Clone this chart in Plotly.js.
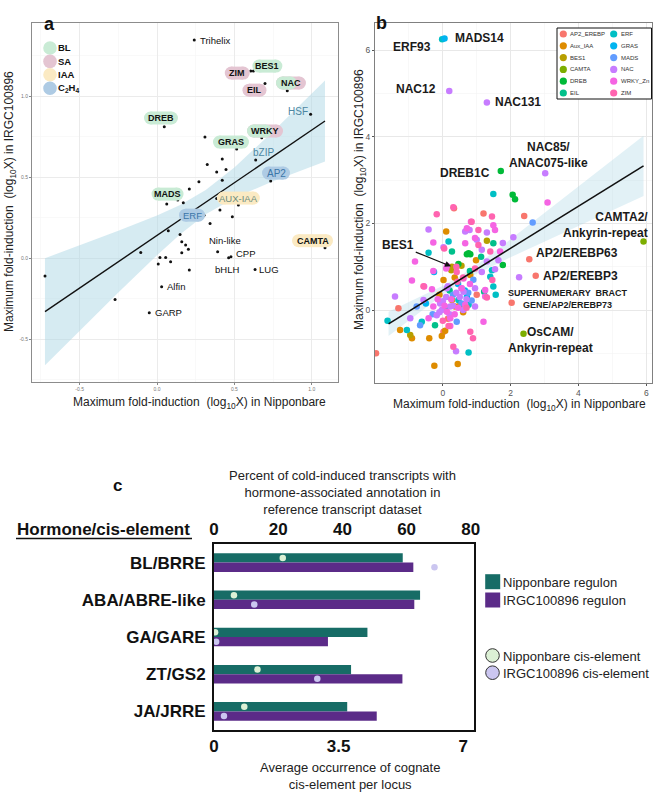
<!DOCTYPE html>
<html><head><meta charset="utf-8">
<script src="https://cdn.plot.ly/plotly-3.0.1.min.js"></script>
<style>html,body{margin:0;padding:0;background:#fff}#chart{width:660px;height:792px}</style>
</head><body><div id="chart"></div>
<script>
// ================= Panel a data =================
const aNames   = ['Trihelix','ZIM','BES1','EIL','NAC','HSF','DREB','WRKY','GRAS','bZIP','AP2','MADS','AUX-IAA','ERF','Nin-like','CPP','bHLH','LUG','Alfin','GARP','CAMTA'];
const aNamedX  = [0.241, 0.606, 0.623, 0.698, 0.842, 0.993, 0.047, 0.677, 0.515, 0.638, 0.735, 0.063, 0.526, 0.304, 0.392, 0.478, 0.463, 0.634, 0.030, -0.050, 1.086];
const aNamedY  = [1.346, 1.154, 1.154, 1.078, 1.033, 0.887, 0.811, 0.743, 0.673, 0.605, 0.475, 0.333, 0.327, 0.265, 0.039, 0.008, 0.002, -0.070, -0.177, -0.338, 0.064];
const aOtherX  = [0.310, 0.422, 0.325, 0.446, 0.386, 0.422, 0.271, 0.209, 0.134, 0.170, 0.386, 0.407, 0.487, 0.343, 0.073, 0.149, 0.160, 0.185, 0.203, 0.160, -0.105, 0.019, 0.056, 0.008, 0.088, 0.209, -0.724, -0.271];
const aOtherY  = [0.747, 0.611, 0.578, 0.547, 0.531, 0.481, 0.471, 0.426, 0.358, 0.341, 0.368, 0.296, 0.255, 0.214, 0.169, 0.146, 0.101, 0.080, 0.054, 0.033, 0.035, 0.004, 0.004, -0.037, -0.023, -0.074, -0.111, -0.255];
const aFitX    = [-0.724, -0.5, -0.25, 0, 0.15, 0.315, 0.5, 0.75, 1.086];
const aFitY    = [-0.331, -0.185, -0.023, 0.140, 0.238, 0.345, 0.465, 0.628, 0.846];
const aFitLo   = [-0.661, -0.448, -0.213, 0.017, 0.147, 0.270, 0.371, 0.474, 0.596];
const aFitHi   = [-0.001, 0.078, 0.168, 0.263, 0.328, 0.420, 0.559, 0.782, 1.096];
const aLegendNames = ['BL','SA','IAA','C<sub>2</sub>H<sub>4</sub>'];
const aTicks = [-0.5, 0, 0.5, 1.0];

// ================= Panel b data =================
const bFamilies = ['AP2_EREBP','Aux_IAA','BES1','CAMTA','DREB','EIL','ERF','GRAS','MADS','NAC','WRKY_Zn','ZIM'];
const bAP2_EREBP = [[0.33,2.35],[2.40,2.17],[1.20,2.23],[-1.31,0.04],[-1.97,-1.00],[2.55,1.17],[2.74,0.79],[2.03,0.17],[0.15,-0.20],[1.00,0.35],[0.02,-0.50]];
const bAux_IAA = [[0.10,1.81],[0.98,1.15],[0.81,0.81],[0.02,0.69],[0.36,0.08],[0.27,0.23],[-1.26,-0.46],[-0.91,-0.65],[-0.40,-0.65],[-0.03,-0.60],[0.07,-0.48],[-0.25,-1.29],[0.44,-1.25],[0.50,0.10],[0.35,0.75],[-0.10,0.35],[0.60,-0.05]];
const bBES1 = [[0.27,1.00],[1.30,1.60],[-0.96,-0.58],[0.25,0.92],[0.55,1.02]];
const bCAMTA = [[5.92,1.58],[2.38,-0.55]];
const bDREB = [[1.71,3.21],[2.06,2.66],[2.13,2.56],[0.71,1.29],[0.81,1.29],[0.76,1.31],[0.46,1.06],[1.77,1.04]];
const bEIL = [[0.27,1.35],[1.13,1.23],[1.22,0.42],[-0.23,-0.35],[0.20,0.45],[0.80,0.90],[1.49,1.54]];
const bERF = [[-0.02,6.25],[0.17,1.58],[-0.42,1.32],[1.49,2.68],[1.45,0.92],[1.40,0.77],[1.49,0.54],[1.56,0.35],[0.46,0.23],[0.76,0.12],[-1.06,-0.46],[0.76,-0.98],[-1.63,-0.25],[0.10,0.05],[-0.62,-0.27]];
const bGRAS = [[0.05,6.27],[-0.26,0.88],[0.45,0.60],[0.65,0.45],[-0.50,0.15],[0.71,0.30]];
const bMADS = [[2.65,2.02],[-0.77,0.08],[0.41,-0.27],[-0.67,-0.35],[0.30,0.35],[0.55,0.15],[0.75,0.40],[-0.30,-0.10],[0.90,0.70],[0.85,0.22]];
const bNAC = [[0.19,5.06],[1.30,4.79],[3.02,3.16],[2.25,0.755],[-0.42,1.86],[0.79,1.85],[1.30,1.79],[2.08,1.68],[1.00,1.62],[1.77,1.55],[0.02,1.45],[1.15,1.39],[1.30,1.12],[1.64,1.15],[1.15,0.88],[0.56,0.50],[0.95,0.50],[-1.41,0.31],[-0.96,-0.19],[0.39,-0.95],[0.12,0.50],[-0.57,0.23],[-0.08,0.15],[0.61,0.42],[-0.18,-0.12],[-0.03,0.00],[0.22,0.08],[0.00,0.20],[0.10,0.30],[0.30,0.10],[0.50,0.30],[0.60,0.00],[0.20,-0.10],[-0.10,-0.05],[0.40,0.40],[0.70,0.25],[0.15,0.55],[1.54,0.94],[0.95,0.08],[0.66,1.81]];
const bWRKY_Zn = [[0.71,1.89],[3.09,2.48],[0.83,2.04],[1.54,1.85],[-0.28,1.56],[0.66,1.54],[1.69,1.35],[-0.82,1.12],[0.10,0.96],[-0.28,0.90],[0.12,1.02],[0.61,0.73],[-0.91,0.68],[-0.55,0.54],[-0.32,0.48],[0.66,0.12],[-0.28,0.08],[0.12,-0.04],[-0.42,-0.19],[0.22,-0.19],[0.22,-0.37],[1.20,-0.27],[1.25,0.46],[1.25,0.31],[0.95,1.66],[1.49,1.96],[0.05,0.10],[0.25,0.25],[0.45,0.05],[-0.15,0.25],[0.35,-0.10],[0.55,0.50],[0.80,0.60]];
const bZIM = [[0.31,2.37],[-0.18,2.21],[1.45,2.16],[1.05,1.85],[0.04,1.42],[1.40,1.35],[0.41,0.88],[0.95,0.96],[1.46,0.69],[-0.57,0.55],[0.43,0.65],[1.30,0.29],[0.17,-0.37],[0.81,-0.50],[0.89,-0.65],[0.31,-0.85],[0.85,2.04],[1.05,1.50],[0.60,0.75],[0.40,1.00],[0.00,-0.25],[0.70,0.05]];
const bLabelText = ['MADS14','ERF93','NAC12','NAC131','NAC85/<br>ANAC075-like','DREB1C','CAMTA2/<br>Ankyrin-repeat','BES1','AP2/EREBP63','AP2/EREBP3','SUPERNUMERARY  BRACT<br>GENE/AP2/EREBP73','OsCAM/<br>Ankyrin-repeat'];
const bLabelX = [0.05, -0.02, 0.19, 1.30, 3.02, 1.71, 5.92, 0.27, 2.55, 2.74, 2.03, 2.38];
const bLabelY = [6.27, 6.25, 5.06, 4.79, 3.16, 3.21, 1.58, 1.00, 1.17, 0.79, 0.17, -0.55];
const bFitX  = [-1.6, -1, 0, 0.5, 1, 2, 3, 4, 5, 5.92];
const bFitY  = [-0.320, -0.029, 0.456, 0.699, 0.941, 1.426, 1.911, 2.396, 2.881, 3.327];
const bFitLo = [-0.600, -0.237, 0.354, 0.619, 0.839, 1.218, 1.582, 1.942, 2.301, 2.630];
const bFitHi = [-0.040, 0.179, 0.558, 0.779, 1.043, 1.634, 2.240, 2.850, 3.461, 4.024];
const bTicks = [0, 2, 4, 6];

// ================= Panel c data =================
const cCategories  = ['BL/BRRE','ABA/ABRE-like','GA/GARE','ZT/GS2','JA/JRRE'];
const cNipRegulon  = [58.8, 64.2, 47.8, 42.7, 41.5];
const cIrgcRegulon = [62.1, 62.4, 35.5, 58.7, 50.7];
const cNipCis      = [1.93, 0.56, 0.03, 1.22, 0.85];
const cIrgcCis     = [6.19, 1.13, 0.06, 2.90, 0.28];
const cSeriesNames = ['Nipponbare regulon','IRGC100896 regulon','Nipponbare cis-element','IRGC100896 cis-element'];
const cTopTicks    = [0, 20, 40, 60, 80];
const cBottomTicks = [0, 3.5, 7];

// ================= drawing =================
const FONT = 'Liberation Sans, Arial, sans-serif';
const W = 660, H = 792;
const px = v => v / W;
const py = v => 1 - v / H;

const COL = {BL:'#c9ebd5', SA:'#e4c5d2', IAA:'#fbeac3', C2H4:'#aecbe4'};
const bColors = ['#F8766D','#DE8C00','#B79F00','#7CAE00','#00BA38','#00C08B','#00BFC4','#00B4F0','#619CFF','#C77CFF','#F564E3','#FF64B0'];
const bData = [bAP2_EREBP,bAux_IAA,bBES1,bCAMTA,bDREB,bEIL,bERF,bGRAS,bMADS,bNAC,bWRKY_Zn,bZIM];
const teal = '#176c66', purple = '#5b2b88', nipDot = '#dcf0d5', irgcDot = '#cbc6f0';

const traces = [];
const shapes = [];
const annotations = [];

// ---- panel a traces
traces.push({type:'scatter', mode:'lines', x:aFitX.concat(aFitX.slice().reverse()), y:aFitHi.concat(aFitLo.slice().reverse()),
  fill:'toself', fillcolor:'rgba(173,216,230,0.5)', line:{width:0, color:'rgba(0,0,0,0)'}, xaxis:'x', yaxis:'y', hoverinfo:'skip'});
traces.push({type:'scatter', mode:'markers', x:aNamedX.concat(aOtherX), y:aNamedY.concat(aOtherY),
  marker:{size:3, color:'#111'}, xaxis:'x', yaxis:'y'});
traces.push({type:'scatter', mode:'lines', x:aFitX, y:aFitY, line:{color:'#111', width:1.4}, xaxis:'x', yaxis:'y'});

// ---- panel b traces
traces.push({type:'scatter', mode:'lines', x:bFitX.concat(bFitX.slice().reverse()), y:bFitHi.concat(bFitLo.slice().reverse()),
  fill:'toself', fillcolor:'rgba(173,216,230,0.35)', line:{width:0, color:'rgba(0,0,0,0)'}, xaxis:'x2', yaxis:'y2', hoverinfo:'skip'});
bData.forEach((arr,i)=>{
  traces.push({type:'scatter', mode:'markers', name:bFamilies[i], x:arr.map(p=>p[0]), y:arr.map(p=>p[1]),
    marker:{size:6.5, color:bColors[i], line:{width:0}}, xaxis:'x2', yaxis:'y2'});
});
traces.push({type:'scatter', mode:'lines', x:bFitX, y:bFitY, line:{color:'#111', width:1.6}, xaxis:'x2', yaxis:'y2'});

// ---- panel c traces
const cIdx = cCategories.map((_,i)=>i);
traces.push({type:'bar', orientation:'h', x:cNipRegulon, y:cIdx, width:0.25, offset:-0.25, marker:{color:teal, line:{width:0}}, xaxis:'x3', yaxis:'y3'});
traces.push({type:'bar', orientation:'h', x:cIrgcRegulon, y:cIdx, width:0.25, offset:0, marker:{color:purple, line:{width:0}}, xaxis:'x3', yaxis:'y3'});
traces.push({type:'scatter', mode:'markers', x:cNipCis, y:cIdx.map(i=>i-0.125), marker:{size:6.5, color:nipDot}, xaxis:'x4', yaxis:'y3'});
traces.push({type:'scatter', mode:'markers', x:cIrgcCis, y:cIdx.map(i=>i+0.125), marker:{size:6.5, color:irgcDot}, xaxis:'x4', yaxis:'y3'});

// ---- pill helper (pixel-sized shapes anchored at a data/paper point)
function pill(xref, yref, xa, ya, cx, cy, w, h, color){
  const r = h/2;
  const base = {xref, yref, xsizemode:'pixel', ysizemode:'pixel', xanchor:xa, yanchor:ya, fillcolor:color, line:{width:0}, layer:'above'};
  return [
    Object.assign({type:'rect', x0:cx-w/2+r, x1:cx+w/2-r, y0:-cy-r, y1:-cy+r}, base),
    Object.assign({type:'circle', x0:cx-w/2, x1:cx-w/2+h, y0:-cy-r, y1:-cy+r}, base),
    Object.assign({type:'circle', x0:cx+w/2-h, x1:cx+w/2, y0:-cy-r, y1:-cy+r}, base)
  ];
}

// ---- panel a labels (offsets in screen px from the point)
const aStyle = {
  'Trihelix':{dx:4, dy:0, anchor:'left'},
  'ZIM':{dx:-13.5, dy:2, pill:['SA'], w:25, bold:true},
  'BES1':{dx:14, dy:-5, pill:['BL'], w:30, bold:true},
  'EIL':{dx:-10.5, dy:6.7, pill:['SA'], w:24, bold:true},
  'NAC':{dx:3.7, dy:-7.7, pill:['BL','SA'], w:30, bold:true},
  'HSF':{dx:-12.7, dy:-3.3, color:'#4d87a2', size:10},
  'DREB':{dx:-3.3, dy:-8.7, pill:['BL'], w:34, bold:true},
  'WRKY':{dx:3.3, dy:-6.7, pill:['BL','SA'], w:36, bold:true},
  'GRAS':{dx:-5.7, dy:-7, pill:['BL'], w:36, bold:true},
  'bZIP':{dx:7.3, dy:-8, color:'#4d87a2', size:10},
  'AP2':{dx:5.3, dy:-8, pill:['C2H4'], w:28, color:'#3b76a8', size:10},
  'MADS':{dx:0.8, dy:-10, pill:['BL'], w:32, bold:true},
  'AUX-IAA':{dx:0, dy:-7, pill:['IAA'], w:43, color:'#6c8c7c', size:9.5},
  'ERF':{dx:-12, dy:0, pill:['C2H4'], w:26, color:'#3b76a8', size:9.5},
  'Nin-like':{dx:7.3, dy:-11},
  'CPP':{dx:3, dy:-3.7, anchor:'left'},
  'bHLH':{dx:-1.7, dy:11.3},
  'LUG':{dx:2, dy:0, anchor:'left'},
  'Alfin':{dx:3, dy:0, anchor:'left'},
  'GARP':{dx:4, dy:0, anchor:'left'},
  'CAMTA':{dx:-12.5, dy:-7, pill:['IAA'], w:41, bold:true}
};
aNames.forEach((n,i)=>{
  const s = aStyle[n];
  const xa = aNamedX[i], ya = aNamedY[i];
  if (s.pill){
    if (s.pill.length === 1){
      shapes.push(...pill('x','y',xa,ya,s.dx,s.dy,s.w,13,COL[s.pill[0]]));
    } else {
      shapes.push(...pill('x','y',xa,ya,s.dx,s.dy,s.w,13,COL[s.pill[1]]));
      shapes.push(...pill('x','y',xa,ya,s.dx-0.15*s.w,s.dy,0.7*s.w,13,COL[s.pill[0]]));
    }
  }
  annotations.push({xref:'x', yref:'y', x:xa, y:ya, text: s.bold ? '<b>'+n+'</b>' : n, showarrow:false,
    xanchor:s.anchor||'center', yanchor:'middle', xshift:s.dx, yshift:-s.dy,
    font:{family:FONT, size:s.size || (s.bold ? 9 : 9.5), color:s.color||'#111'}});
});
// panel a legend
const aLegCols = [COL.BL, COL.SA, COL.IAA, COL.C2H4];
aLegendNames.forEach((n,i)=>{
  const cy = 48 + i*13.4;
  shapes.push({type:'circle', xref:'paper', yref:'paper', xsizemode:'pixel', ysizemode:'pixel', xanchor:px(50), yanchor:py(cy),
    x0:-6.8, x1:6.8, y0:-6.8, y1:6.8, fillcolor:aLegCols[i], line:{width:0}, layer:'above'});
  annotations.push({xref:'paper', yref:'paper', x:px(56), y:py(cy), text:'<b>'+n+'</b>', showarrow:false, xanchor:'left', yanchor:'middle',
    font:{family:FONT, size:9.5, color:'#111'}});
});

// ---- panel b labels
const bStyle = [
  {dx:8, dy:-1, anchor:'left'},
  {dx:-9.3, dy:8, anchor:'right'},
  {dx:-11.7, dy:-1.7, anchor:'right'},
  {dx:6.6, dy:-0.7, anchor:'left'},
  {dx:3.5, dy:-18, anchor:'center'},
  {dx:-8.4, dy:1.7, anchor:'right'},
  {dx:6, dy:-17, anchor:'right', align:'right'},
  {arrow:true, ax:-53.7, ay:-21.7},
  {dx:5, dy:-6.3, anchor:'left'},
  {dx:5, dy:0, anchor:'left'},
  {dx:56, dy:-4, anchor:'center', size:9},
  {dx:26.7, dy:6.5, anchor:'center'}
];
bLabelText.forEach((t,i)=>{
  const s = bStyle[i];
  if (s.arrow){
    annotations.push({xref:'x2', yref:'y2', x:bLabelX[i], y:bLabelY[i], text:'<b>'+t+'</b>', showarrow:true,
      ax:s.ax, ay:s.ay, arrowhead:2, arrowsize:1, arrowwidth:1.2, arrowcolor:'#111', standoff:1,
      font:{family:FONT, size:12, color:'#1a1a1a'}});
  } else {
    annotations.push({xref:'x2', yref:'y2', x:bLabelX[i], y:bLabelY[i], text:'<b>'+t+'</b>', showarrow:false,
      xanchor:s.anchor, yanchor:'middle', align:s.align||'center', xshift:s.dx, yshift:-s.dy,
      font:{family:FONT, size:s.size||12, color:'#1a1a1a'}});
  }
});
// panel b legend (manual, two columns)
shapes.push({type:'rect', xref:'paper', yref:'paper', x0:px(557), x1:px(651.5), y0:py(99), y1:py(28),
  line:{color:'#111', width:1}, fillcolor:'#ffffff', layer:'above'});
bFamilies.forEach((f,i)=>{
  const col = Math.floor(i/6), row = i%6;
  const cx = col ? 613.7 : 563.3, cy = 34 + row*11.8;
  shapes.push({type:'circle', xref:'paper', yref:'paper', xsizemode:'pixel', ysizemode:'pixel', xanchor:px(cx), yanchor:py(cy),
    x0:-3.6, x1:3.6, y0:-3.6, y1:3.6, fillcolor:bColors[i], line:{width:0}, layer:'above'});
  annotations.push({xref:'paper', yref:'paper', x:px(cx+5), y:py(cy), text:f, showarrow:false, xanchor:'left', yanchor:'middle',
    font:{family:FONT, size:6, color:'#333'}});
});

// ---- axis titles / panel letters
const axTitleFont = {family:FONT, size:12, color:'#222'};
annotations.push({xref:'paper', yref:'paper', x:px(10), y:py(202), textangle:-90, showarrow:false, xanchor:'center', yanchor:'middle',
  text:'Maximum fold-induction  (log<sub>10</sub>X) in IRGC100896', font:axTitleFont});
annotations.push({xref:'paper', yref:'paper', x:px(360), y:py(200), textangle:-90, showarrow:false, xanchor:'center', yanchor:'middle',
  text:'Maximum fold-induction  (log<sub>10</sub>X) in IRGC100896', font:axTitleFont});
annotations.push({xref:'paper', yref:'paper', x:px(199), y:py(403), showarrow:false, xanchor:'center', yanchor:'middle',
  text:'Maximum fold-induction  (log<sub>10</sub>X) in Nipponbare', font:axTitleFont});
annotations.push({xref:'paper', yref:'paper', x:px(519), y:py(405), showarrow:false, xanchor:'center', yanchor:'middle',
  text:'Maximum fold-induction  (log<sub>10</sub>X) in Nipponbare', font:axTitleFont});
annotations.push({xref:'paper', yref:'paper', x:px(42), y:py(12), showarrow:false, text:'<b>a</b>', font:{family:FONT, size:18, color:'#111'}});
annotations.push({xref:'paper', yref:'paper', x:px(382), y:py(11), showarrow:false, text:'<b>b</b>', font:{family:FONT, size:18, color:'#111'}});
annotations.push({xref:'paper', yref:'paper', x:px(111), y:py(485), showarrow:false, text:'<b>c</b>', font:{family:FONT, size:17, color:'#111'}});
annotations.push({xref:'paper', yref:'paper', x:px(342), y:py(492), showarrow:false, xanchor:'center', yanchor:'middle',
  text:'Percent of cold-induced transcripts with<br>hormone-associated annotation in<br>reference transcript dataset', font:{family:FONT, size:13, color:'#222'}});
annotations.push({xref:'paper', yref:'paper', x:px(104), y:py(529), showarrow:false, xanchor:'center', yanchor:'middle',
  text:'<b>Hormone/cis-element</b>', font:{family:FONT, size:17, color:'#111'}});
shapes.push({type:'line', xref:'paper', yref:'paper', x0:px(16), x1:px(192), y0:py(538.5), y1:py(538.5), line:{color:'#111', width:1.5}});
annotations.push({xref:'paper', yref:'paper', x:px(349.5), y:py(775.5), showarrow:false, xanchor:'center', yanchor:'middle',
  text:'Average occurrence of cognate<br>cis-element per locus', font:{family:FONT, size:13, color:'#222'}});

// ---- panel c legend (manual)
shapes.push({type:'rect', xref:'paper', yref:'paper', x0:px(485.2), x1:px(500.2), y0:py(589.2), y1:py(574.2), fillcolor:teal, line:{width:0}});
shapes.push({type:'rect', xref:'paper', yref:'paper', x0:px(485.2), x1:px(500.2), y0:py(607.5), y1:py(592.5), fillcolor:purple, line:{width:0}});
shapes.push({type:'circle', xref:'paper', yref:'paper', xsizemode:'pixel', ysizemode:'pixel', xanchor:px(492.5), yanchor:py(655.5),
  x0:-6.8, x1:6.8, y0:-6.8, y1:6.8, fillcolor:nipDot, line:{color:'#333', width:1}});
shapes.push({type:'circle', xref:'paper', yref:'paper', xsizemode:'pixel', ysizemode:'pixel', xanchor:px(492.5), yanchor:py(672.7),
  x0:-6.8, x1:6.8, y0:-6.8, y1:6.8, fillcolor:irgcDot, line:{color:'#333', width:1}});
[582, 600, 656, 673].forEach((y,i)=>{
  annotations.push({xref:'paper', yref:'paper', x:px(501), y:py(y), showarrow:false, xanchor:'left', yanchor:'middle',
    text:cSeriesNames[i], font:{family:FONT, size:13, color:'#222'}});
});

// ---- axes
const aAxis = {showgrid:true, gridcolor:'#ebebeb', gridwidth:1, zeroline:false, showline:true, mirror:true, linecolor:'#8c8c8c', linewidth:1,
  ticks:'outside', ticklen:2, tickcolor:'#888', tickfont:{family:FONT, size:5, color:'#777'},
  tickmode:'array', tickvals:aTicks, ticktext:aTicks.map(v=>v.toFixed(1)),
  minor:{tickmode:'linear', tick0:0, dtick:0.25, showgrid:true, gridcolor:'#f5f5f5', gridwidth:0.6}};
const bAxis = {showgrid:true, gridcolor:'#e8e8e8', gridwidth:1, zeroline:false, showline:true, mirror:true, linecolor:'#808080', linewidth:1,
  ticks:'outside', ticklen:2, tickcolor:'#555', tickfont:{family:FONT, size:8.5, color:'#555'},
  tickmode:'array', tickvals:bTicks, ticktext:bTicks.map(String),
  minor:{tickmode:'linear', tick0:0, dtick:1, showgrid:true, gridcolor:'#f4f4f4', gridwidth:0.6}};
const boldTick = {family:FONT, size:17, color:'#111', weight:'bold'};

const layout = {
  width:660, height:792, margin:{l:0, r:0, t:0, b:0}, paper_bgcolor:'#fff', plot_bgcolor:'#fff',
  showlegend:false, font:{family:FONT}, barmode:'overlay', hovermode:false,
  xaxis: Object.assign({}, aAxis, {domain:[px(32), px(338)], anchor:'y', range:[-0.808, 1.170]}),
  yaxis: Object.assign({}, aAxis, {domain:[py(382), py(23)], anchor:'x', range:[-0.765, 1.451]}),
  xaxis2: Object.assign({}, bAxis, {domain:[px(375), px(652)], anchor:'y2', range:[-2.0, 6.17]}),
  yaxis2: Object.assign({}, bAxis, {domain:[py(382.7), py(23)], anchor:'x2', range:[-1.679, 6.628]}),
  xaxis3: {domain:[px(214), px(474)], anchor:'y3', side:'top', range:[0, 81], tickmode:'array', tickvals:cTopTicks,
    ticktext:cTopTicks.map(String), tickfont:boldTick, showline:true, mirror:true, linecolor:'#111', linewidth:2,
    showgrid:false, zeroline:false, ticks:'', ticklen:0},
  xaxis4: {overlaying:'x3', anchor:'y3', side:'bottom', range:[0, 7.3], tickmode:'array', tickvals:cBottomTicks,
    ticktext:cBottomTicks.map(String), tickfont:boldTick, showline:false, showgrid:false, zeroline:false,
    ticks:'outside', ticklen:1, tickcolor:'rgba(0,0,0,0)'},
  yaxis3: {domain:[py(730), py(544)], anchor:'x3', range:[4.5, -0.5], tickmode:'array', tickvals:cIdx, ticktext:cCategories,
    tickfont:boldTick, showline:true, mirror:true, linecolor:'#111', linewidth:2, showgrid:false, zeroline:false,
    ticks:'outside', ticklen:3, tickcolor:'rgba(0,0,0,0)'},
  shapes: shapes,
  annotations: annotations
};

Plotly.newPlot('chart', traces, layout, {staticPlot:true, displayModeBar:false});
</script>
</body></html>
